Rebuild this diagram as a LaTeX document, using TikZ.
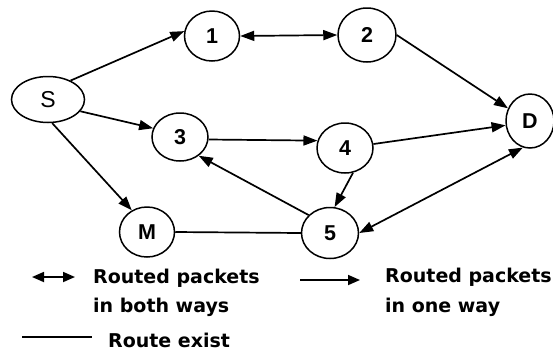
\documentclass[tikz,border=0pt]{standalone}
\usepackage{fontspec}
\setmainfont{Liberation Sans}
\newfontfamily\legfont{DejaVu Sans}
\usetikzlibrary{shapes.geometric,arrows.meta}
\tikzset{
  nd/.style={ellipse,draw,line width=1.5pt,inner sep=0pt,font=\bfseries\fontsize{21.5}{21.5}\selectfont},
  conn/.style={line width=1.7pt},
  tip/.tip={Triangle[length=14pt,width=10pt]},
  arr/.style={conn,-tip},
  darr/.style={conn,tip-tip},
  leg/.style={anchor=base west,inner sep=0pt,font=\legfont\bfseries\fontsize{19}{19}\selectfont}
}
\begin{document}
\begin{tikzpicture}[x=1pt,y=-1pt]
\useasboundingbox (0,0) rectangle (553,354);
\node[nd,minimum width=73pt,minimum height=46pt,font=\fontsize{23}{23}\selectfont] (S) at (48,99.5) {S};
\node[nd,minimum width=55pt,minimum height=50pt] (1) at (212,36) {1};
\node[nd,minimum width=58pt,minimum height=54pt] (2) at (367,35) {2};
\node[nd,minimum width=48pt,minimum height=54pt] (D) at (530,121) {D};
\node[nd,minimum width=56pt,minimum height=48pt] (3) at (180,137) {3};
\node[nd,minimum width=56pt,minimum height=50pt] (4) at (345,148) {4};
\node[nd,minimum width=55pt,minimum height=50pt] (M) at (147,232) {M};
\node[nd,minimum width=57pt,minimum height=51pt] (5) at (330,233) {5};

\draw[arr] (S.40) -- (1.170);
\draw[darr] (1.east) -- (2.west);
\draw[arr] (2.east) -- (D.150);
\draw[arr] (S.-20) -- (3.162);
\draw[arr] (3.-5) -- (4.165);
\draw[arr] (4.8) -- (D.190);
\draw[arr] (4.-72) -- (5.80);
\draw[arr] (5.140) -- (3.-45);
\draw[darr] (5.east) -- (D.255);
\draw[arr] (S.-80) -- (M.125);
\draw[conn] (M.east) -- (5.west);

% legend
\coordinate (la) at (32,277);
\coordinate (lb) at (75,277);
\draw[conn,{Triangle[length=12pt,width=10pt]}-{Triangle[length=12pt,width=10pt]}] (la) -- (lb);
\node[leg] (t1) at (93,283) {Routed packets};
\node[leg] (t2) at (93,312) {in both ways};
\coordinate (lc) at (22,337);
\coordinate (ld) at (92,337);
\draw[line width=1.4pt] (lc) -- (ld);
\node[leg] (t3) at (108,347) {Route exist};
\coordinate (le) at (300,280);
\coordinate (lf) at (360,280);
\draw[conn,-{Triangle[length=12pt,width=10pt]}] (le) -- (lf);
\node[leg] (t4) at (385,282) {Routed packets};
\node[leg] (t5) at (385,312) {in one way};
\end{tikzpicture}
\end{document}
